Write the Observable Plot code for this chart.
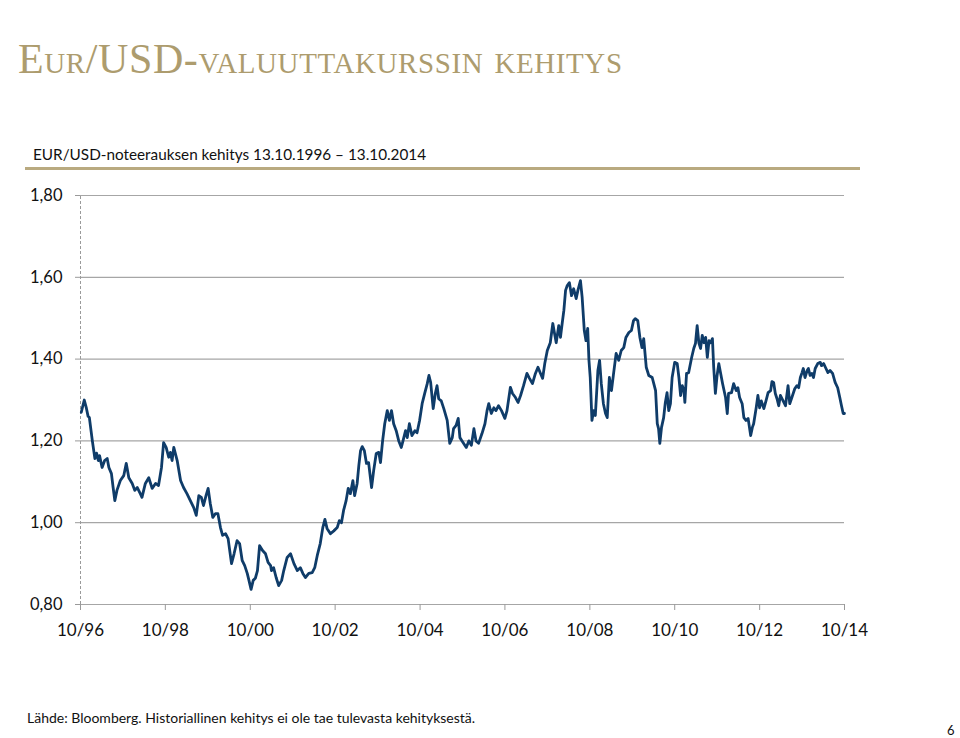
<!DOCTYPE html>
<html>
<head>
<meta charset="utf-8">
<script src="https://cdn.jsdelivr.net/npm/d3@7"></script>
<script src="https://cdn.jsdelivr.net/npm/@observablehq/plot@0.6"></script>
<style>
  html, body { margin: 0; padding: 0; background: #fff; }
  body { width: 960px; height: 738px; position: relative; overflow: hidden; font-family: Lato, "Open Sans", sans-serif; }
  #title { position: absolute; left: 18px; top: 35px; font-family: "Liberation Serif", "DejaVu Serif", serif; font-variant: small-caps; font-size: 42px; color: #ad9c6e; white-space: nowrap; letter-spacing: 0.6px; }
  #subtitle { position: absolute; left: 33px; top: 145px; font-size: 15.3px; color: #111; white-space: nowrap; }
  #rule { position: absolute; left: 25px; top: 167px; width: 835px; height: 3px; background: #b9aa80; }
  #chart { position: absolute; left: 0; top: 175px; }
  #source { position: absolute; left: 27px; top: 709px; font-size: 14px; color: #111; white-space: nowrap; }
  #page { position: absolute; left: 947px; top: 722px; font-size: 13px; color: #111; }
</style>
</head>
<body>
<div id="title">Eur/USD-valuuttakurssin kehitys</div>
<div id="subtitle">EUR/USD-noteerauksen kehitys 13.10.1996 – 13.10.2014</div>
<div id="rule"></div>
<div id="chart"></div>
<div id="source">Lähde: Bloomberg. Historiallinen kehitys ei ole tae tulevasta kehityksestä.</div>
<div id="page">6</div>
<script>
// Decimal years
const years = [
  1996.80,1996.87,1996.92,1996.96,1996.99,1997.06,1997.12,1997.16,1997.20,1997.23,
  1997.29,1997.35,1997.41,1997.45,1997.51,1997.55,1997.59,1997.64,1997.72,1997.80,
  1997.86,1997.92,1998.00,1998.06,1998.12,1998.19,1998.23,1998.31,1998.39,1998.47,
  1998.55,1998.62,1998.69,1998.74,1998.80,1998.86,1998.90,1998.94,1998.98,1999.06,
  1999.14,1999.21,1999.29,1999.37,1999.45,1999.51,1999.57,1999.63,1999.68,1999.74,
  1999.79,1999.84,1999.90,1999.96,2000.02,2000.08,2000.13,2000.20,2000.26,2000.34,
  2000.40,2000.47,2000.53,2000.59,2000.65,2000.71,2000.75,2000.80,2000.85,2000.90,
  2000.95,2001.00,2001.07,2001.14,2001.20,2001.26,
  2001.28,2001.33,2001.39,2001.45,2001.52,2001.57,2001.65,2001.73,2001.81,2001.89,
  2001.96,2002.02,2002.08,2002.16,2002.24,2002.30,2002.36,2002.43,2002.49,2002.54,
  2002.59,2002.67,2002.75,2002.83,2002.88,2002.93,2002.98,2003.04,2003.09,2003.14,
  2003.20,2003.24,2003.30,2003.34,2003.38,2003.42,2003.47,2003.52,2003.57,2003.64,
  2003.69,2003.75,2003.81,2003.85,2003.90,2003.95,2004.01,2004.06,2004.11,2004.16,
  2004.22,2004.28,2004.34,2004.38,2004.44,2004.48,2004.53,2004.59,2004.66,2004.71,
  2004.77,2004.83,2004.89,2004.95,2004.99,2005.03,2005.09,2005.14,2005.18,2005.22,
  2005.28,2005.34,2005.42,2005.48,2005.54,2005.57,2005.63,2005.68,2005.72,2005.77,
  2005.87,2005.93,2005.99,2006.05,2006.10,2006.16,2006.24,2006.31,2006.36,2006.40,
  2006.46,2006.52,2006.57,2006.63,2006.70,2006.78,2006.83,2006.91,2006.96,2007.03,
  2007.09,2007.15,2007.22,2007.30,2007.36,2007.43,2007.50,2007.56,2007.62,2007.67,
  2007.72,2007.78,2007.85,2007.91,2007.95,2007.99,2008.05,2008.09,2008.13,2008.17,
  2008.21,2008.25,2008.30,2008.35,2008.40,2008.46,2008.50,2008.56,2008.60,2008.65,
  2008.69,2008.73,2008.76,2008.79,2008.83,2008.87,2008.91,2008.97,2009.01,2009.05,
  2009.10,2009.15,2009.19,2009.24,2009.29,2009.34,2009.40,2009.46,2009.52,2009.58,
  2009.63,2009.70,2009.76,2009.81,2009.85,2009.91,2009.96,2010.01,2010.05,2010.11,
  2010.17,2010.25,2010.30,
  2010.33,2010.37,2010.40,2010.43,2010.47,2010.52,2010.56,2010.60,2010.64,2010.68,
  2010.72,2010.78,2010.84,2010.88,2010.92,2010.96,2011.00,2011.02,2011.06,2011.11,
  2011.18,2011.23,2011.27,2011.31,2011.35,2011.39,2011.43,2011.47,2011.51,2011.55,
  2011.59,2011.63,2011.67,2011.70,2011.74,2011.78,2011.82,2011.86,2011.91,2011.98,
  2012.02,2012.05,2012.12,2012.17,2012.23,2012.27,2012.31,2012.37,2012.41,2012.46,
  2012.51,2012.57,2012.61,2012.64,2012.70,2012.74,2012.78,2012.82,2012.88,2012.93,
  2012.98,2013.04,2013.07,2013.11,2013.15,2013.19,2013.23,2013.27,2013.31,2013.39,
  2013.45,2013.49,2013.54,2013.61,2013.66,2013.70,2013.74,2013.78,2013.81,2013.85,
  2013.90,2013.93,2013.97,2014.01,2014.05,2014.09,2014.15,2014.21,2014.24,2014.29,
  2014.33,2014.39,2014.44,2014.50,2014.56,2014.62,2014.67,2014.71,2014.75,2014.78
];
// EUR/USD rates
const rates = [
  1.270,1.300,1.280,1.260,1.257,1.200,1.157,1.170,1.152,1.164,
  1.135,1.152,1.157,1.135,1.120,1.086,1.054,1.079,1.103,1.115,
  1.145,1.110,1.096,1.079,1.086,1.071,1.062,1.096,1.110,1.084,
  1.096,1.091,1.135,1.196,1.184,1.160,1.172,1.152,1.184,1.152,
  1.103,1.086,1.071,1.054,1.037,1.018,1.066,1.062,1.042,1.066,
  1.084,1.047,1.013,1.022,1.022,0.988,0.969,0.973,0.961,0.900,
  0.924,0.956,0.949,0.908,0.895,0.876,0.859,0.837,0.859,0.864,
  0.883,0.944,0.932,0.924,0.903,0.895,
  0.883,0.890,0.866,0.846,0.859,0.883,0.915,0.924,0.900,0.883,
  0.890,0.876,0.866,0.876,0.878,0.890,0.920,0.949,0.988,1.008,
  0.986,0.973,0.980,0.988,1.005,1.000,1.030,1.054,1.084,1.071,
  1.103,1.066,1.096,1.140,1.176,1.186,1.176,1.145,1.147,1.086,
  1.128,1.169,1.172,1.147,1.200,1.242,1.274,1.250,1.274,1.242,
  1.225,1.200,1.184,1.200,1.225,1.208,1.242,1.213,1.225,1.220,
  1.250,1.291,1.316,1.340,1.360,1.343,1.279,1.316,1.335,1.303,
  1.298,1.279,1.250,1.194,1.208,1.230,1.238,1.255,1.208,1.200,
  1.184,1.200,1.189,1.230,1.200,1.194,1.218,1.242,1.274,1.291,
  1.267,1.281,1.274,1.286,1.274,1.255,1.274,1.331,1.316,1.306,
  1.294,1.311,1.335,1.365,1.353,1.340,1.365,1.380,1.365,1.353,
  1.389,1.421,1.440,1.487,1.463,1.440,1.482,1.453,1.487,1.519,
  1.568,1.580,1.587,1.555,1.572,1.548,1.568,1.592,1.551,1.470,
  1.445,1.475,1.397,1.355,1.250,1.274,1.262,1.372,1.397,1.340,
  1.291,1.267,1.257,1.355,1.323,1.365,1.414,1.397,1.421,1.428,
  1.453,1.465,1.470,1.494,1.499,1.494,1.453,1.428,1.450,1.380,
  1.360,1.355,1.335,
  1.323,1.242,1.230,1.194,1.233,1.257,1.294,1.318,1.274,1.291,
  1.355,1.392,1.389,1.355,1.311,1.335,1.323,1.294,1.365,1.367,
  1.404,1.426,1.438,1.482,1.440,1.426,1.458,1.440,1.453,1.404,
  1.445,1.440,1.450,1.380,1.316,1.360,1.389,1.367,1.340,1.306,
  1.267,1.316,1.318,1.340,1.323,1.330,1.306,1.291,1.257,1.250,
  1.255,1.213,1.233,1.242,1.281,1.311,1.281,1.298,1.279,1.298,
  1.318,1.323,1.345,1.343,1.316,1.303,1.286,1.311,1.303,1.286,
  1.335,1.291,1.306,1.328,1.335,1.330,1.355,1.367,1.377,1.355,
  1.372,1.377,1.360,1.365,1.355,1.377,1.389,1.392,1.384,1.389,
  1.380,1.367,1.372,1.365,1.343,1.330,1.306,1.286,1.267,1.267
];
const yTicks = [0.8, 1.0, 1.2, 1.4, 1.6, 1.8];
const xTickLabels = ["10/96","10/98","10/00","10/02","10/04","10/06","10/08","10/10","10/12","10/14"];
const startDate = "1996-10-13";
const endDate = "2014-10-13";

function toDate(y) {
  const yr = Math.floor(y);
  const s = Date.UTC(yr, 0, 1), e = Date.UTC(yr + 1, 0, 1);
  return new Date(s + (y - yr) * (e - s));
}
const data = years.map((y, i) => ({date: toDate(y), rate: rates[i]}));
const x0 = new Date(startDate + "T00:00:00Z");
const x1 = new Date(endDate + "T00:00:00Z");
const xTicks = xTickLabels.map(l => {
  const yy = +l.split("/")[1];
  const full = yy > 50 ? 1900 + yy : 2000 + yy;
  return new Date(Date.UTC(full, 9, 13));
});
const fmtX = d => xTickLabels[xTicks.findIndex(t => +t === +d)];
const fmtY = d => d.toFixed(2).replace(".", ",");

const chart = Plot.plot({
  width: 960,
  height: 474,
  marginLeft: 80,
  marginRight: 116,
  marginTop: 20,
  marginBottom: 45,
  style: {fontFamily: "Lato, 'Open Sans', sans-serif", fontSize: "16px", color: "#111", background: "transparent"},
  x: {type: "utc", domain: [x0, x1]},
  y: {domain: [0.8, 1.8]},
  marks: [
    Plot.ruleY(yTicks, {stroke: "#a6a6a6", strokeWidth: 1.2}),
    Plot.ruleX([x0], {stroke: "#9a9a9a", strokeDasharray: "3,2", y1: 0.8, y2: 1.8}),
    Plot.axisY({ticks: yTicks, tickFormat: fmtY, tickSize: 5, tickPadding: 13, stroke: "#9a9a9a", fill: "#111", fontSize: 16.5, label: null}),
    Plot.axisX({ticks: xTicks, tickFormat: fmtX, tickSize: 6, tickPadding: 13, stroke: "#9a9a9a", fill: "#111", fontSize: 17, label: null}),
    Plot.line(data, {x: "date", y: "rate", stroke: "#0f3c69", strokeWidth: 2.8, strokeLinejoin: "round"})
  ]
});
document.getElementById("chart").appendChild(chart);
</script>
</body>
</html>
